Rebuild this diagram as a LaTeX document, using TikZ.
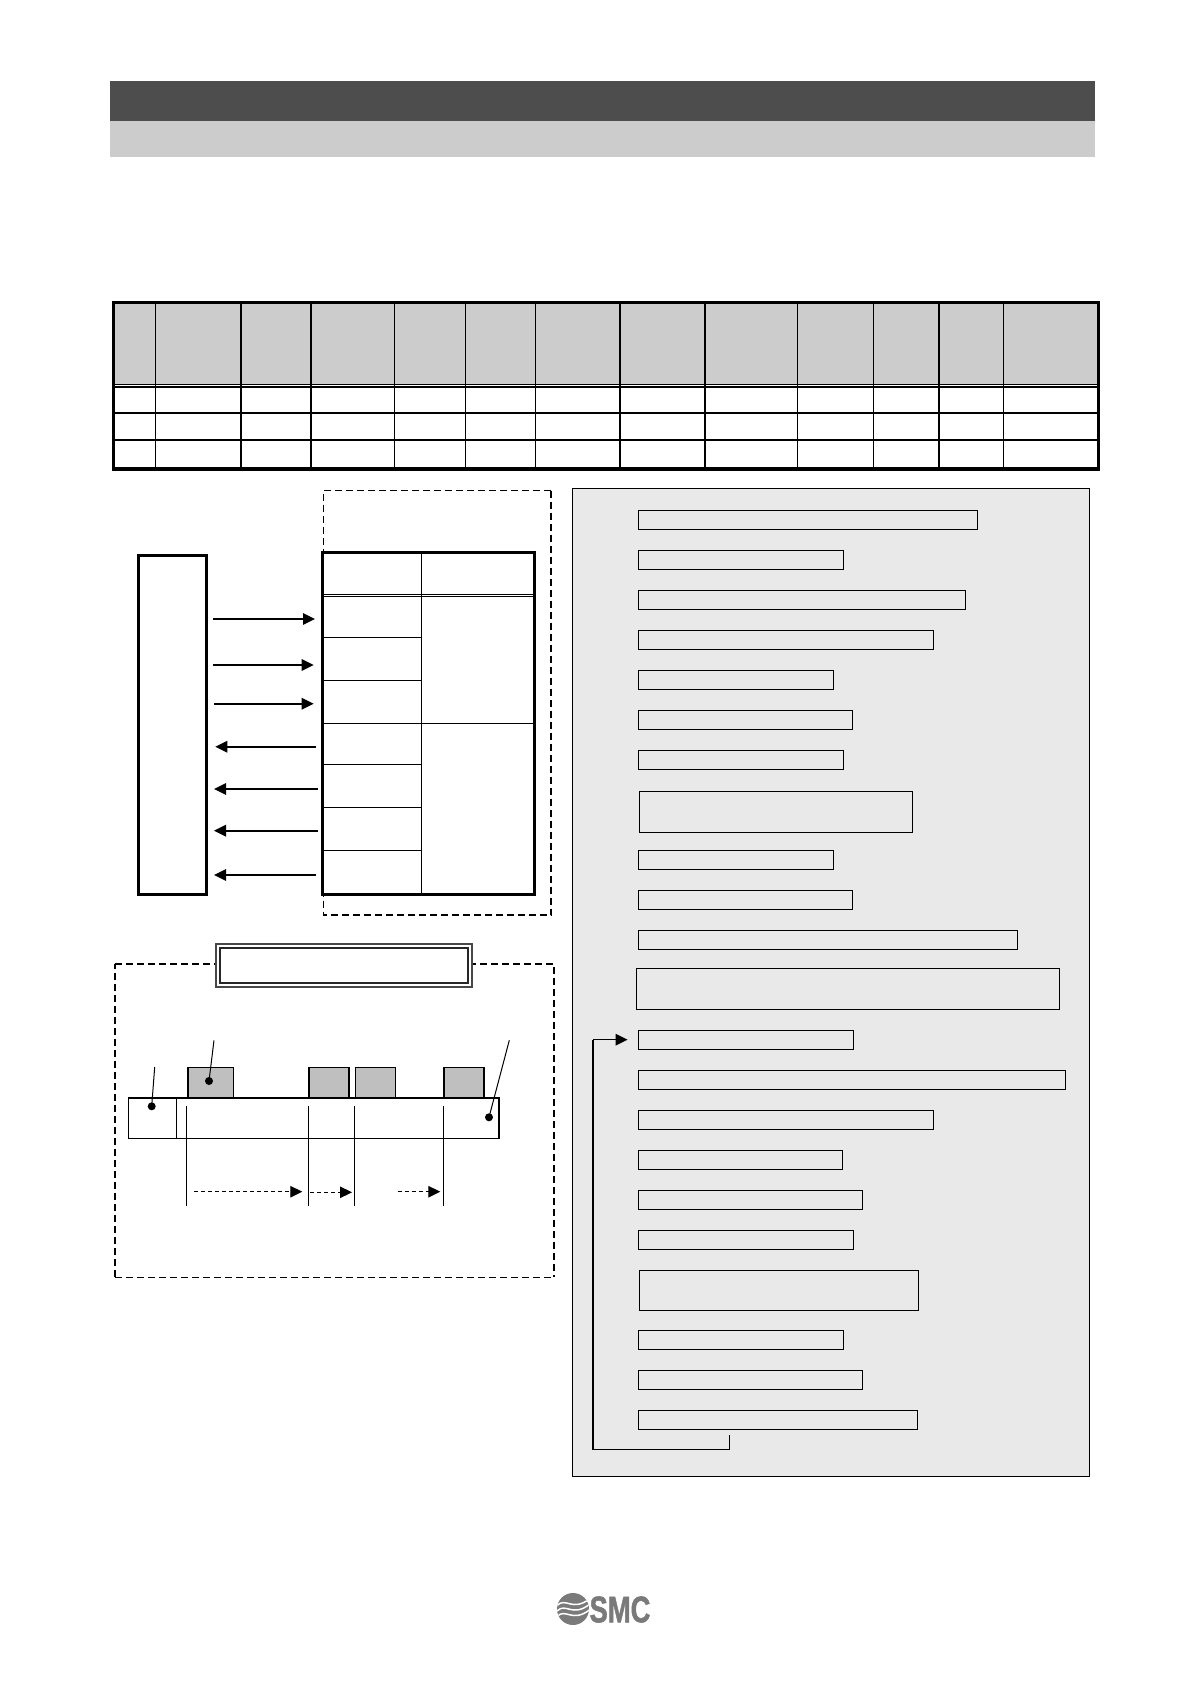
\documentclass[tikz,border=0pt]{standalone}
\usepackage{fontspec}
\setmainfont{Liberation Sans}
\usetikzlibrary{arrows.meta}
\definecolor{hdark}{HTML}{4D4D4D}
\definecolor{hlight}{HTML}{CCCCCC}
\definecolor{panelgrey}{HTML}{E9E9E9}
\definecolor{tabgrey}{HTML}{BFBFBF}
\definecolor{logogrey}{HTML}{7A7A7A}
\tikzset{
  plainbox/.style={draw=black,inner sep=0pt,outer sep=0pt,anchor=north west},
  heavy/.style={line width=2.8pt},
  thin1/.style={line width=1.1pt},
  sigarrow/.style={line width=1.6pt,-{Triangle[length=12pt,width=11.5pt]}},
  dasharrow/.style={line width=1.1pt,dash pattern=on 4pt off 3pt,-{Triangle[length=12pt,width=11.5pt,sep=0pt]}},
  dashthin/.style={line width=1.2pt,dash pattern=on 7pt off 4pt},
  dashthick/.style={line width=1.7pt,dash pattern=on 7pt off 4pt},
  tabline/.style={line width=1.2pt},
  blackdot/.style={circle,fill=black,inner sep=0pt,minimum size=8pt},
  leader/.style={line width=1pt},
}
\newcommand{\pbox}[5]{\node[plainbox,thin1,minimum width={#4pt-#2pt},minimum height={#5pt-#3pt}] (#1) at (#2,#3) {};}
\begin{document}
\begin{tikzpicture}[x=1pt,y=-1pt]
\useasboundingbox (0,0) rectangle (1190,1684);
\fill[white] (0,0) rectangle (1190,1684);
% header bands
\fill[hdark] (110,81) rectangle (1095,121);
\fill[hlight] (110,121) rectangle (1095,156.7);
% table
\fill[hlight] (113.5,302.5) rectangle (1098.3,385);
\foreach \x in {155.5,241,311,394.5,465.5,535.5,620,705,797.5,873.5,939,1003.7}
  \draw[tabline] (\x,302.5) -- (\x,469);
\draw[line width=1pt] (113.5,384.5) -- (1098.3,384.5);
\draw[tabline] (113.5,387) -- (1098.3,387);
\draw[tabline] (113.5,413) -- (1098.3,413);
\draw[tabline] (113.5,440) -- (1098.3,440);
\draw[line width=3.2pt] (113.5,302.5) rectangle (1098.3,469);
% signal diagram
\draw[dashthin] (551,490.5) -- (323.2,490.5) -- (323.2,915);
\draw[dashthick] (551,490.5) -- (551,915) -- (323.2,915);
\node[plainbox,heavy,fill=white,minimum width=67.5pt,minimum height=339pt] (host) at (138.7,555.3) {};
\node[plainbox,heavy,fill=white,minimum width=212.5pt,minimum height=342pt] (ptable) at (322.3,552.3) {};
\draw[thin1] (421.3,552.3) -- (421.3,894.3);
\draw[line width=.9pt] (ptable.west |- 0,594.3) -- (ptable.east |- 0,594.3);
\draw[line width=.9pt] (ptable.west |- 0,596.6) -- (ptable.east |- 0,596.6);
\foreach \y in {637,680.3,764.3,807.3,850.3}
  \draw[line width=1pt] (322.3,\y) -- (421.3,\y);
\draw[thin1] (ptable.west |- 0,723.3) -- (ptable.east |- 0,723.3);
\coordinate (s1a) at (213,619);     \coordinate (s1b) at (315,619);
\coordinate (s2a) at (213,665);     \coordinate (s2b) at (313.7,665);
\coordinate (s3a) at (214,703.7);   \coordinate (s3b) at (313.7,703.7);
\coordinate (s4a) at (316,746.7);   \coordinate (s4b) at (215.3,746.7);
\coordinate (s5a) at (317.7,789);   \coordinate (s5b) at (214,789);
\coordinate (s6a) at (317.7,830.7); \coordinate (s6b) at (214,830.7);
\coordinate (s7a) at (316,875);     \coordinate (s7b) at (214,875);
\foreach \i in {1,...,7}
  \draw[sigarrow] (s\i a) -- (s\i b);
% data frame diagram
\draw[dashthin] (115,1277.3) -- (115,964);
\draw[dashthin] (115,1277.3) -- (554,1277.3);
\draw[dashthick] (115,964) -- (230,964);
\draw[dashthick] (469,964) -- (554,964) -- (554,1277.3);
\node[plainbox,line width=2pt,draw=black!72,fill=white,minimum width=256pt,minimum height=43.5pt] (title) at (215.7,943.7) {};
\node[plainbox,line width=1.8pt,draw=black!85,fill=white,minimum width=247.4pt,minimum height=34.5pt] (titlein) at (220.3,948.3) {};
\node[plainbox,line width=1pt,fill=tabgrey,minimum width=46pt,minimum height=30.4pt] (g1) at (187.7,1067.3) {};
\node[plainbox,line width=1pt,fill=tabgrey,minimum width=40.6pt,minimum height=30.4pt] (g2) at (308.7,1067.3) {};
\node[plainbox,line width=1pt,fill=tabgrey,minimum width=40.4pt,minimum height=30.4pt] (g3) at (355.3,1067.3) {};
\node[plainbox,line width=1pt,fill=tabgrey,minimum width=40.6pt,minimum height=30.4pt] (g4) at (443.7,1067.3) {};
\draw[line width=2pt] (g1.south west) -- (g1.north west);
\draw[line width=2pt] (g2.south west) -- (g2.north west) (g2.south east) -- (g2.north east);
\draw[line width=2pt] (g4.south west) -- (g4.north west) (g4.south east) -- (g4.north east);
\node[plainbox,line width=1.1pt,fill=white,minimum width=370.3pt,minimum height=40.6pt] (bar) at (128.7,1097.7) {};
\draw[line width=2pt] (bar.north west) -- (bar.north east);
\draw[thin1] (176.3,1097.7) -- (176.3,1138.3);
\foreach \x in {186.3,308.3,354.3,443.3}
  \draw[line width=1pt] (\x,1105.7) -- (\x,1205.7);
\coordinate (f1a) at (194,1191.7);   \coordinate (f1b) at (302.3,1191.7);
\coordinate (f2a) at (310,1192.3);   \coordinate (f2b) at (352,1192.3);
\coordinate (f3a) at (397.7,1191.7); \coordinate (f3b) at (440.3,1191.7);
\foreach \i in {1,2,3}
  \draw[dasharrow] (f\i a) -- (f\i b);
\node[blackdot] (d1) at (151.7,1106.3) {};
\node[blackdot] (d2) at (209,1081) {};
\node[blackdot] (d3) at (489,1117.3) {};
\coordinate (l1) at (154.7,1067);
\coordinate (l2) at (214,1040.3);
\coordinate (l3) at (509.3,1040.3);
\draw[leader] (l1) -- (d1.center);
\draw[leader] (l2) -- (d2.center);
\draw[leader] (l3) -- (d3.center);
% right panel
\node[plainbox,thin1,fill=panelgrey,minimum width=517pt,minimum height=988.1pt] (panel) at (572.4,488.2) {};
\pbox{b1}{638.3}{510.4}{977.3}{529.3}
\pbox{b2}{638.3}{550.4}{843.1}{569.3}
\pbox{b3}{638.3}{590.4}{965.2}{609.3}
\pbox{b4}{638.3}{630.4}{933.1}{649.3}
\pbox{b5}{638.3}{670.4}{833.1}{689.3}
\pbox{b6}{638.3}{710.4}{852.1}{729.3}
\pbox{b7}{638.3}{750.4}{843.1}{769.3}
\pbox{b8}{639.3}{791.4}{912.1}{832.5}
\pbox{b9}{638.3}{850.4}{833.1}{869.3}
\pbox{b10}{638.3}{890.4}{852.1}{909.3}
\pbox{b11}{638.3}{930.4}{1017.3}{949.3}
\pbox{b12}{636.6}{968.2}{1059.3}{1009.3}
\pbox{b13}{638.3}{1030.3}{853.1}{1049.3}
\pbox{b14}{638.3}{1070.3}{1065.2}{1089.3}
\pbox{b15}{638.3}{1110.3}{933.1}{1129.3}
\pbox{b16}{638.3}{1150.3}{842.1}{1169.3}
\pbox{b17}{638.3}{1190.3}{862.1}{1209.3}
\pbox{b18}{638.3}{1230.3}{853.1}{1249.3}
\pbox{b19}{639.3}{1270.3}{918.5}{1310.3}
\pbox{b20}{638.3}{1330.3}{843.1}{1349.3}
\pbox{b21}{638.3}{1370.3}{862.1}{1389.3}
\pbox{b22}{638.3}{1410.3}{917.3}{1429.3}
\coordinate (loopstart) at (729.7,1435.3);
\coordinate (loopcorner) at (729.7,1449.7);
\coordinate (loopup) at (592.8,1449.7);
\coordinate (looptop) at (592.8,1039.7);
\coordinate (looptip) at (627.6,1039.7);
\draw[line width=1pt] (loopstart) -- (loopcorner) -- (loopup);
\draw[line width=1.7pt] (loopup) -- (looptop);
\draw[line width=1.3pt,-{Triangle[length=12pt,width=11.5pt]}] (looptop) -- (looptip);
% logo
\begin{scope}
  \clip (573,1609) circle (16);
  \fill[logogrey] (555,1592) rectangle (590,1626);
  \foreach \dy in {-5.5,0,5.5}
    \draw[white,line width=1.5pt] (557,1611+\dy) .. controls (566,1602+\dy) and (572,1618+\dy) .. (590,1604+\dy);
\end{scope}
\node[inner sep=0pt,text=logogrey,xscale=.74,font=\fontsize{37}{37}\selectfont\bfseries\addfontfeature{FakeBold=1.5},anchor=center] (logotext) at (620,1609.5) {SMC};
\end{tikzpicture}
\end{document}
